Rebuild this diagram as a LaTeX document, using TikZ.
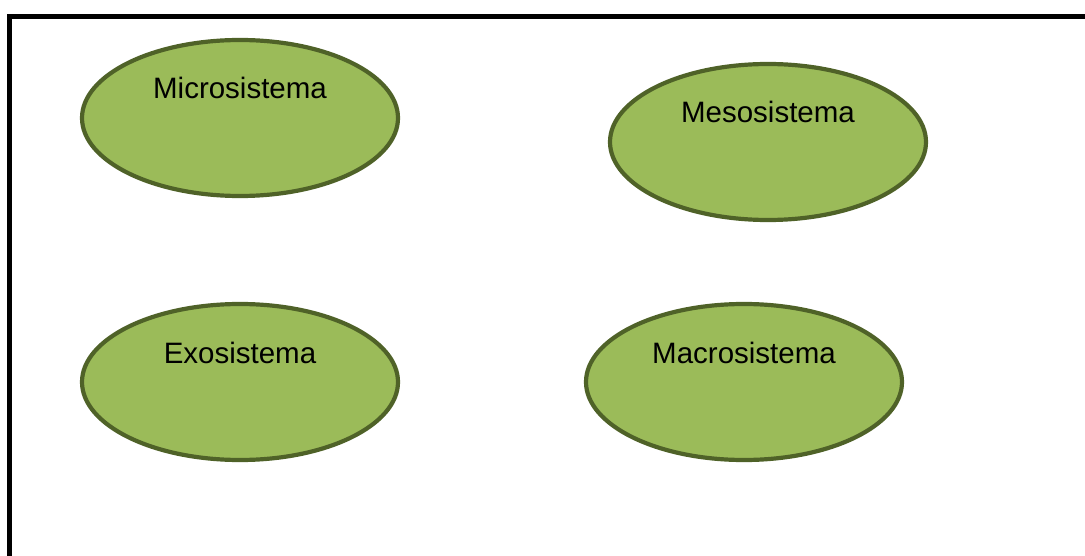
\documentclass[tikz,border=0pt]{standalone}
\usepackage{fontspec}
\setmainfont{Liberation Sans}
\usepackage{xcolor}
\usetikzlibrary{shapes.geometric,positioning,calc}
\definecolor{olivo}{HTML}{9BBB59}
\definecolor{olivoosc}{HTML}{4F6228}

\begin{document}
\begin{tikzpicture}[x=1pt,y=1pt,
  sistema/.style={draw=olivoosc,fill=olivo,ellipse,line width=4.2pt,minimum width=316pt,minimum height=156pt,inner sep=0pt},
  etiqueta/.style={font=\fontsize{29.5}{33}\selectfont,inner sep=0pt,anchor=base}]
  \useasboundingbox (0,0) rectangle (1085,-556);
  \clip (0,0) rectangle (1085,-556);
  \draw[line width=5pt] (9.5,-16.5) rectangle (1100,-580);
  \node[sistema] (micro) at (240,-118) {};
  \node[sistema] (meso) at (768,-142) {};
  \node[sistema] (exo) at (240,-382) {};
  \node[sistema] (macro) at (744,-382) {};
  \node[etiqueta] (tmicro) at ($(micro.center)+(0,19)$) {Microsistema};
  \node[etiqueta] (tmeso) at ($(meso.center)+(0,19)$) {Mesosistema};
  \node[etiqueta] (texo) at ($(exo.center)+(0,19)$) {Exosistema};
  \node[etiqueta] (tmacro) at ($(macro.center)+(0,19)$) {Macrosistema};
\end{tikzpicture}
\end{document}
